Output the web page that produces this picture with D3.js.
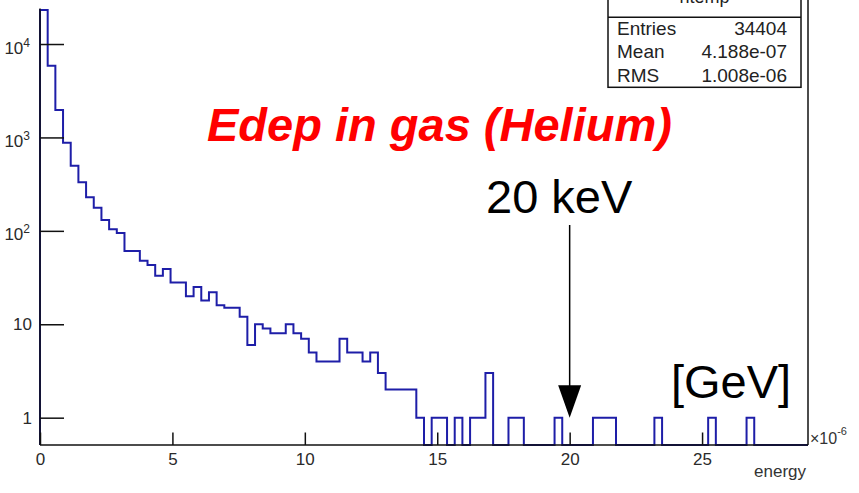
<!DOCTYPE html>
<html>
<head>
<meta charset="utf-8">
<script src="https://cdn.jsdelivr.net/npm/d3@7"></script>
<style>
  html, body { margin: 0; padding: 0; background: #fff; }
  svg { display: block; font-family: "Liberation Sans", Arial, Helvetica, sans-serif; }
</style>
</head>
<body>
<svg id="chart" width="859" height="493"></svg>
<script>
// Energy deposited in the helium gas, 100 bins of 0.29e-6 GeV
const binLowEdge = 0;
const binWidth = 0.29;          // in units of 1e-6 GeV
const binCounts = [
  23100, 5860, 1965, 877, 498, 331, 229, 177, 131, 104,
  95, 61, 61, 48, 43, 33, 39, 28, 28, 20,
  25, 18, 22, 16, 15, 15, 12, 6, 10, 9,
  8, 8, 10, 8, 7, 5, 4, 4, 4, 7,
  5, 5, 4, 5, 3, 2, 2, 2, 2, 1,
  0, 1, 1, 0, 1, 0, 1, 1, 3, 0,
  0, 1, 1, 0, 0, 0, 0, 1, 0, 0,
  0, 0, 1, 1, 1, 0, 0, 0, 0, 0,
  1, 0, 0, 0, 0, 0, 0, 1, 0, 0,
  0, 0, 1, 0, 0, 0, 0, 0, 0, 0
];

// Axis ranges and ticks
const xDomain = [0, 29];
const yDomain = [0.51, 24000];
const xMajorTicks = [0, 5, 10, 15, 20, 25];
const xMinorTicks = [1, 2, 3, 4, 6, 7, 8, 9, 11, 12, 13, 14, 16, 17, 18, 19, 21, 22, 23, 24, 26, 27, 28];
const yMajorTicks = [1, 10, 100, 1000, 10000];
const yMinorMultipliers = [2, 3, 4, 5, 6, 7, 8, 9];

// Statistics box
const statsTitle = "htemp";
const statsRows = [
  ["Entries", "34404"],
  ["Mean", "4.188e-07"],
  ["RMS", "1.008e-06"]
];

// Annotations
const titleText = "Edep in gas (Helium)";
const markerEnergy = 20;        // 20 keV = 20e-6 GeV
const markerLabel = "20 keV";
const unitLabel = "[GeV]";
const xAxisTitle = "energy";

const svg = d3.select("#chart");
const frame = { left: 40, right: 808, top: 8.5, bottom: 445 };
const labelColor = "#2a2a2a";

const x = d3.scaleLinear().domain(xDomain).range([frame.left, frame.right]);
const y = d3.scaleLog().domain(yDomain).range([frame.bottom, frame.top]);

// Histogram outline (empty bins sit on the bottom of the frame)
const yFloor = yDomain[0];
const pts = [[x(binLowEdge), y(yFloor)]];
binCounts.forEach((c, i) => {
  const lo = binLowEdge + i * binWidth, hi = lo + binWidth;
  const v = Math.max(c, yFloor);
  pts.push([x(lo), y(v)], [x(hi), y(v)]);
});
pts.push([x(binLowEdge + binCounts.length * binWidth), y(yFloor)]);

svg.append("path")
  .attr("d", d3.line()(pts))
  .attr("fill", "none")
  .attr("stroke", "#1e1ea8")
  .attr("stroke-width", 2)
  .attr("stroke-linejoin", "miter");

// Right edge of the frame
svg.append("line")
  .attr("x1", frame.right).attr("x2", frame.right)
  .attr("y1", 0).attr("y2", frame.bottom)
  .attr("stroke", "#111").attr("stroke-width", 1.5);

// X axis
const gx = svg.append("g").attr("transform", `translate(0,${frame.bottom})`);
gx.call(d3.axisBottom(x).tickValues(xMinorTicks).tickSize(-6.5).tickFormat(""));
gx.call(d3.axisBottom(x).tickValues(xMajorTicks).tickSize(-12.5).tickPadding(8).tickFormat(d3.format("d")));
gx.selectAll(".domain").remove();
gx.append("line").attr("x1", frame.left).attr("x2", frame.right)
  .attr("stroke", "#111").attr("stroke-width", 1.5);
gx.selectAll("line").attr("stroke", "#111").attr("stroke-width", 1.5);
gx.selectAll("text").attr("font-size", 17).attr("fill", labelColor)
  .attr("font-family", "Liberation Sans, Arial, sans-serif");

// Y axis (log)
const yMinorTicks = [];
[0.1, 1, 10, 100, 1000, 10000].forEach(d => yMinorMultipliers.forEach(m => {
  const v = d * m;
  if (v >= yDomain[0] && v <= yDomain[1]) yMinorTicks.push(v);
}));
const gy = svg.append("g").attr("transform", `translate(${frame.left},0)`);
gy.call(d3.axisLeft(y).tickValues(yMinorTicks).tickSize(-12).tickFormat(""));
gy.call(d3.axisLeft(y).tickValues(yMajorTicks).tickSize(-24).tickFormat(""));
gy.selectAll(".domain").remove();
gy.append("line").attr("y1", frame.top).attr("y2", frame.bottom)
  .attr("stroke", "#111").attr("stroke-width", 1.5);
gy.selectAll("line").attr("stroke", "#111").attr("stroke-width", 1.5);

// Y tick labels: 1, 10, then powers of ten with superscripts
yMajorTicks.forEach(v => {
  const exp = Math.round(Math.log10(v));
  const t = gy.append("text")
    .attr("text-anchor", "end")
    .attr("fill", labelColor)
    .attr("font-size", 17);
  if (exp <= 1) {
    t.attr("x", -8).attr("y", y(v)).attr("dy", "0.36em").text(String(v));
  } else {
    t.attr("x", -10).attr("y", y(v) + 9.5);
    t.append("tspan").text("10");
    t.append("tspan").attr("font-size", 12).attr("dy", -7).text(String(exp));
  }
});

// x-axis multiplier and title
const mult = svg.append("text")
  .attr("x", frame.right + 2).attr("y", frame.bottom - 1)
  .attr("font-size", 16).attr("fill", "#333");
mult.append("tspan").text("\u00d710");
mult.append("tspan").attr("font-size", 11).attr("dy", -9).text("-6");

svg.append("text")
  .attr("x", 806).attr("y", 477)
  .attr("text-anchor", "end")
  .attr("font-size", 17).attr("fill", "#333")
  .text(xAxisTitle);

// Statistics box
const box = { x0: 608, x1: 801, yHead: 17.3, y1: 87.3 };
const gs = svg.append("g");
gs.append("rect")
  .attr("x", box.x0).attr("y", -20)
  .attr("width", box.x1 - box.x0).attr("height", box.y1 + 20)
  .attr("fill", "#fff").attr("stroke", "#111").attr("stroke-width", 1.5);
gs.append("line")
  .attr("x1", box.x0).attr("x2", box.x1)
  .attr("y1", box.yHead).attr("y2", box.yHead)
  .attr("stroke", "#111").attr("stroke-width", 1.5);
gs.append("text")
  .attr("x", (box.x0 + box.x1) / 2).attr("y", 3)
  .attr("text-anchor", "middle").attr("font-size", 18).attr("fill", "#222")
  .text(statsTitle);
statsRows.forEach((r, i) => {
  const by = 35 + i * 23.4;
  gs.append("text").attr("x", 617).attr("y", by)
    .attr("font-size", 19).attr("fill", "#222").text(r[0]);
  gs.append("text").attr("x", 787).attr("y", by)
    .attr("text-anchor", "end").attr("font-size", 19).attr("fill", "#222").text(r[1]);
});

// Title
svg.append("text")
  .attr("x", 207).attr("y", 141)
  .attr("font-size", 47).attr("font-weight", "bold").attr("font-style", "italic")
  .attr("fill", "#ff0000")
  .text(titleText);

// 20 keV marker with arrow
svg.append("text")
  .attr("x", 486).attr("y", 213)
  .attr("font-size", 47).attr("fill", "#000")
  .text(markerLabel);

const ax = x(markerEnergy);
const tipY = y(1);
svg.append("line")
  .attr("x1", ax).attr("x2", ax)
  .attr("y1", 225).attr("y2", tipY - 25)
  .attr("stroke", "#000").attr("stroke-width", 1.5);
svg.append("path")
  .attr("d", d3.line()([[ax - 11.5, tipY - 32.5], [ax + 11.5, tipY - 32.5], [ax, tipY]]) + "Z")
  .attr("fill", "#000");

// Unit label
svg.append("text")
  .attr("x", 671).attr("y", 398)
  .attr("font-size", 47).attr("fill", "#000")
  .text(unitLabel);
</script>
</body>
</html>
